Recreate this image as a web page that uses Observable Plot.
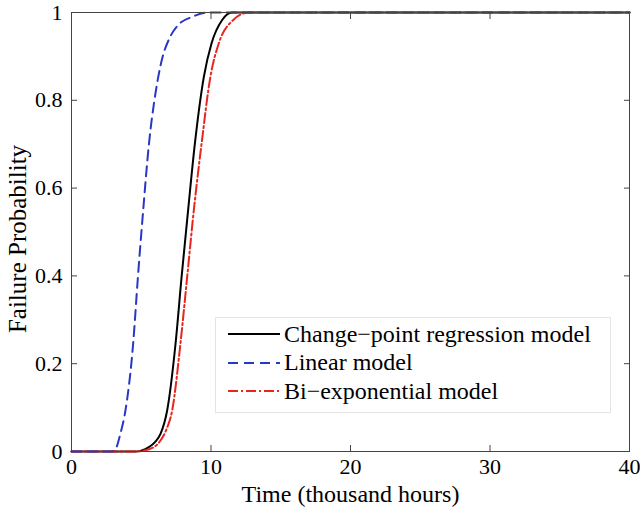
<!DOCTYPE html>
<html><head><meta charset="utf-8">
<script src="https://cdn.jsdelivr.net/npm/d3@7"></script>
<script src="https://cdn.jsdelivr.net/npm/@observablehq/plot@0.6"></script>
<style>
body{margin:0;background:#fff;}
#wrap{position:relative;width:640px;height:511px;font-family:"Liberation Serif","Times New Roman",serif;}
#legend{position:absolute;left:215px;top:317px;width:396px;height:96px;border:1px solid #e4e4e4;background:#fff;box-sizing:border-box;}
.row{position:absolute;left:0;height:28px;display:flex;align-items:center;font-size:24px;color:#000;white-space:nowrap;}
.row svg{margin-left:12px;margin-right:4px;}
</style></head><body><div id="wrap"></div>
<script>
// Series names
const seriesNames = ["Change\u2212point regression model", "Linear model", "Bi\u2212exponential model"];
const seriesColors = ["#000000", "#2a36c8", "#e8261e"];
const seriesDash = [null, "10,6", "10,3,2,3"];

// Change-point regression model (time in thousand hours, failure probability)
const cpTime = [0, 4.6, 5.0, 5.55, 6.0, 6.38, 6.86, 7.46, 7.89, 8.36, 8.84, 9.49, 10.04, 10.8, 11.5, 40];
const cpProb = [0, 0, 0.002, 0.01, 0.022, 0.04, 0.094, 0.246, 0.397, 0.55, 0.70, 0.854, 0.93, 0.983, 1, 1];

// Linear model
const linTime = [0, 2.9, 3.15, 3.5, 3.87, 4.42, 4.76, 5.14, 5.55, 6.02, 6.5, 7.0, 7.6, 8.65, 9.8, 40];
const linProb = [0, 0, 0.005, 0.04, 0.094, 0.246, 0.397, 0.55, 0.70, 0.816, 0.895, 0.94, 0.97, 0.99, 1, 1];

// Bi-exponential model
const biTime = [0, 4.5, 5.0, 5.55, 6.0, 6.38, 6.8, 7.22, 7.81, 8.29, 8.77, 9.32, 9.96, 10.56, 11.6, 12.7, 40];
const biProb = [0, 0, 0.001, 0.005, 0.012, 0.025, 0.05, 0.094, 0.246, 0.397, 0.55, 0.70, 0.854, 0.93, 0.983, 1, 1];

// Ticks
const xTicks = [0, 10, 20, 30, 40];
const yTicks = [0, 0.2, 0.4, 0.6, 0.8, 1];
const xTitle = "Time (thousand hours)";
const yTitle = "Failure Probability";

const toRows = (ts, ps) => ts.map((t, i) => ({t, p: ps[i]}));
const cpData = toRows(cpTime, cpProb);
const linData = toRows(linTime, linProb);
const biData = toRows(biTime, biProb);

const lineOpts = (i) => ({x: "t", y: "p", stroke: seriesColors[i], strokeWidth: 2, strokeDasharray: seriesDash[i] ?? undefined, curve: "monotone-x"});
const tickOnly = {tickSize: -6, fill: "none", label: null, stroke: "#444"};

const plot = Plot.plot({
  width: 640, height: 511,
  marginLeft: 71, marginRight: 11, marginTop: 12, marginBottom: 60,
  x: {domain: [0, 40]},
  y: {domain: [0, 1]},
  style: {fontFamily: "'Liberation Serif','Times New Roman',serif", fontSize: "22px", color: "#000", background: "#fff"},
  marks: [
    Plot.line(cpData, lineOpts(0)),
    Plot.line(biData, lineOpts(2)),
    Plot.line(linData, lineOpts(1)),
    Plot.frame({stroke: "#444", strokeWidth: 1}),
    Plot.axisX({ticks: xTicks, tickSize: 0, tickPadding: 7, label: null, tickFormat: d => String(d)}),
    Plot.axisX({ticks: xTicks, anchor: "bottom", ...tickOnly}),
    Plot.axisX({ticks: xTicks, anchor: "top", ...tickOnly}),
    Plot.axisY({ticks: yTicks, tickSize: 0, tickPadding: 9, label: null, tickFormat: d => String(d)}),
    Plot.axisY({ticks: yTicks, anchor: "left", ...tickOnly}),
    Plot.axisY({ticks: yTicks, anchor: "right", ...tickOnly}),
    Plot.text([xTitle], {frameAnchor: "bottom", dy: 50, fontSize: 24, textAnchor: "middle"}),
    Plot.text([yTitle], {frameAnchor: "left", dx: -54, dy: 7, rotate: -90, fontSize: 25, textAnchor: "middle"})
  ]
});

const wrap = document.getElementById("wrap");
wrap.appendChild(plot);

// Legend
const legend = document.createElement("div");
legend.id = "legend";
seriesNames.forEach((name, i) => {
  const row = document.createElement("div");
  row.className = "row";
  row.style.top = (2 + i * 28.5) + "px";
  const svg = d3.create("svg").attr("width", 52).attr("height", 10);
  svg.append("line").attr("x1", 0).attr("x2", 52).attr("y1", 5).attr("y2", 5)
    .attr("stroke", seriesColors[i]).attr("stroke-width", 2)
    .attr("stroke-dasharray", seriesDash[i]);
  row.appendChild(svg.node());
  const span = document.createElement("span");
  span.textContent = name;
  row.appendChild(span);
  legend.appendChild(row);
});
wrap.appendChild(legend);
</script>
</body></html>
